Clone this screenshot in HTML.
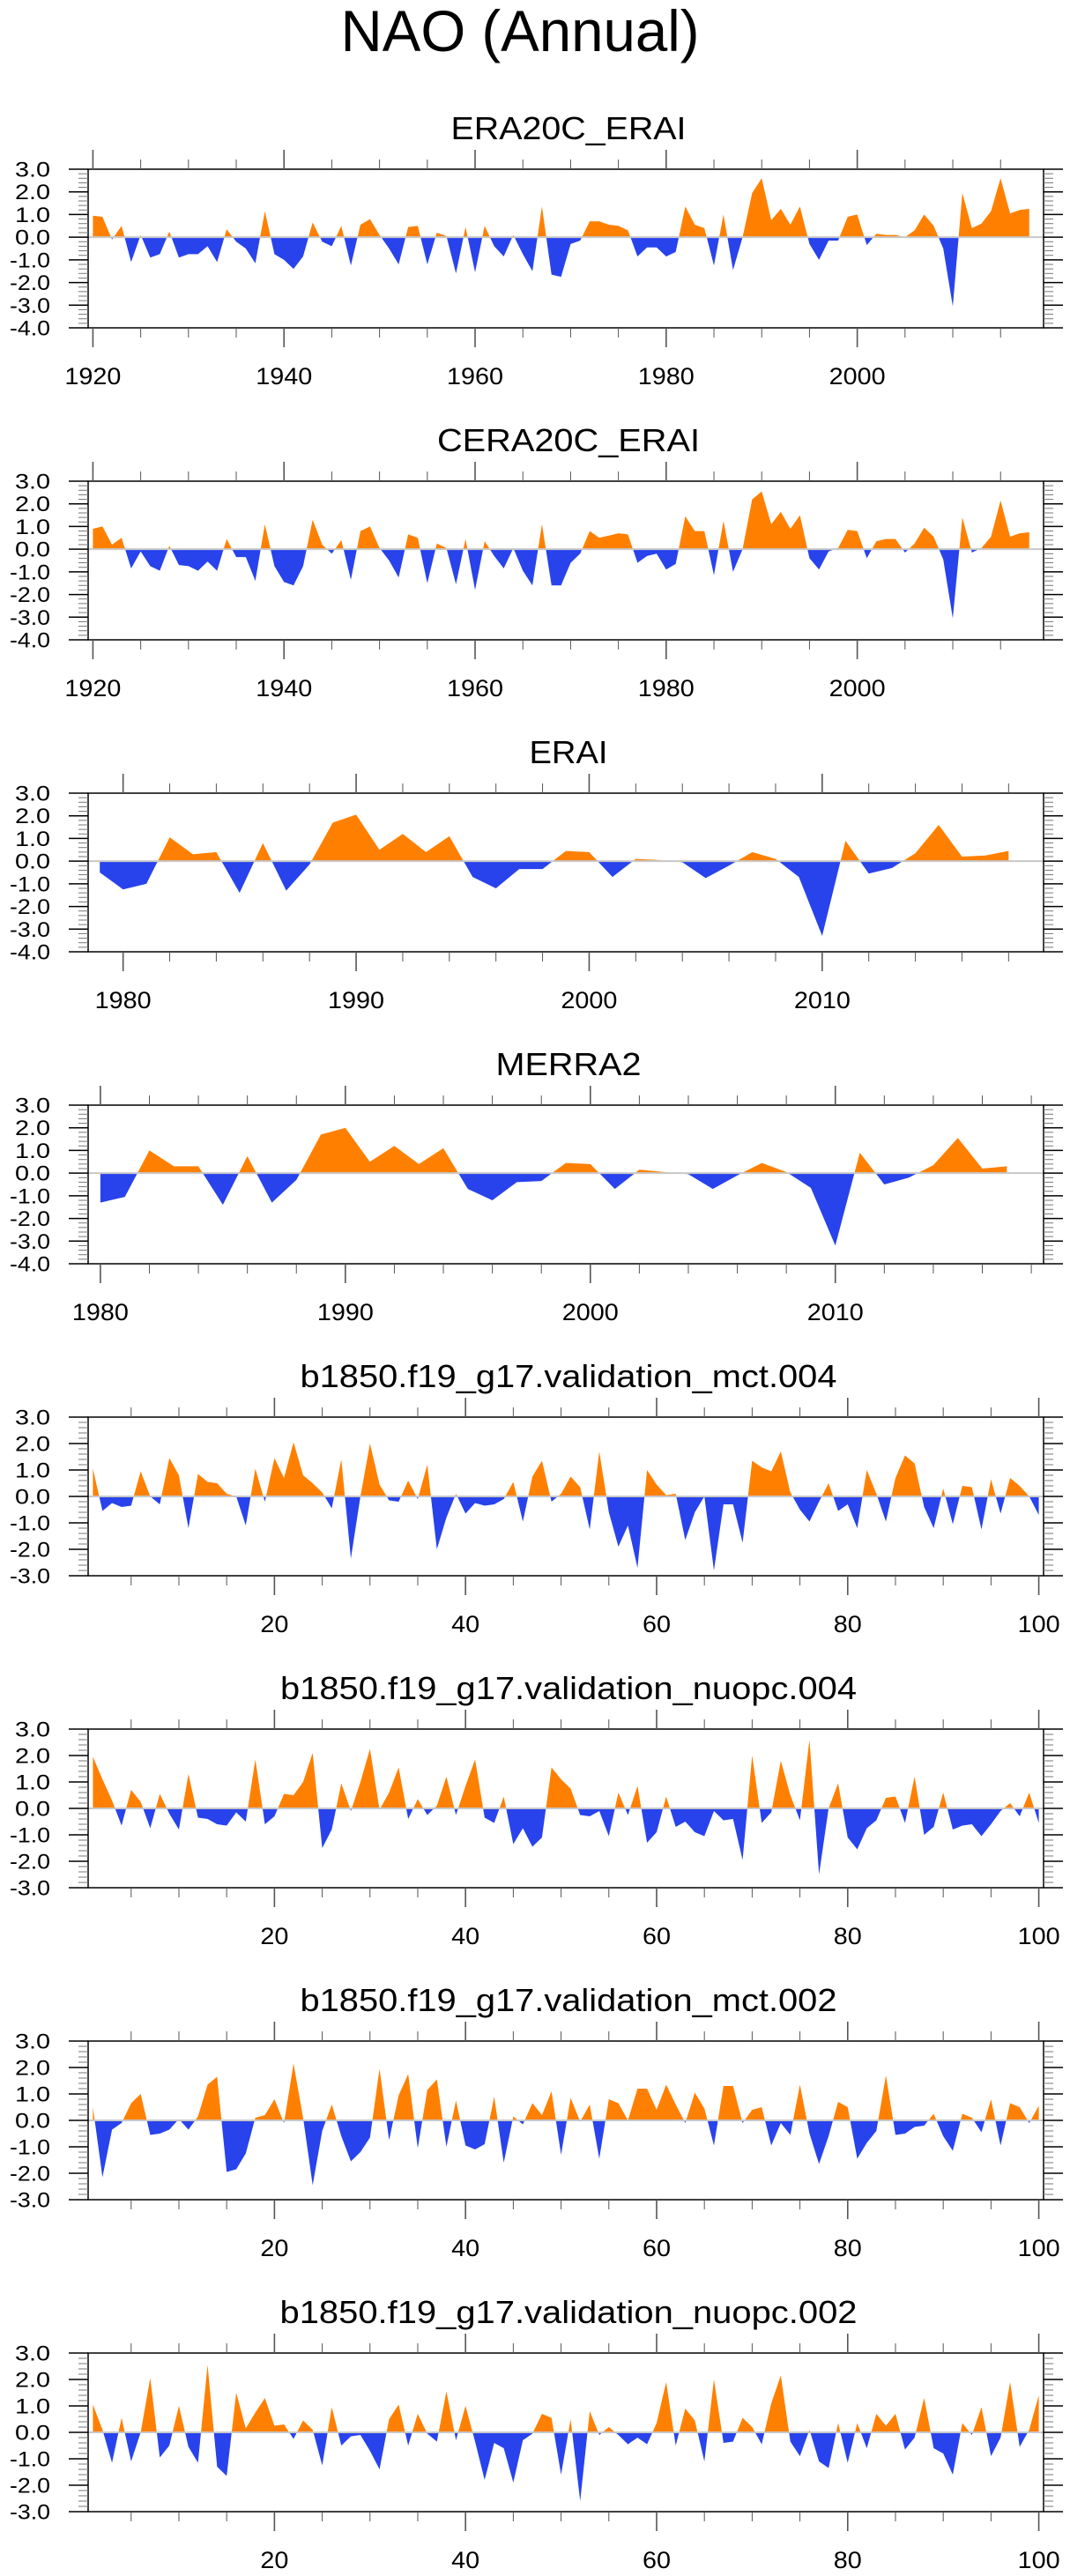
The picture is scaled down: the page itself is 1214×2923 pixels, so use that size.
<!DOCTYPE html>
<html><head><meta charset="utf-8"><title>NAO (Annual)</title>
<style>html,body{margin:0;padding:0;background:#fff;}svg{display:block;}</style></head>
<body>
<svg id="fig" xmlns="http://www.w3.org/2000/svg" width="1214" height="2923" viewBox="0 0 1214 2923" font-family="Liberation Sans, Arial, sans-serif">
<rect x="0" y="0" width="1214" height="2923" fill="#fff"/>
<text x="590" y="58" text-anchor="middle" font-size="66" textLength="407" lengthAdjust="spacingAndGlyphs">NAO (Annual)</text>
</svg>
<script>
// ---- data ----
const titles = ["ERA20C_ERAI","CERA20C_ERAI","ERAI","MERRA2","b1850.f19_g17.validation_mct.004","b1850.f19_g17.validation_nuopc.004","b1850.f19_g17.validation_mct.002","b1850.f19_g17.validation_nuopc.002"];
const startYears = [1920,1920,1979,1980,1,1,1,1];
const era20c = [0.95,0.9,-0.1,0.5,-1.1,0.1,-0.9,-0.75,0.25,-0.9,-0.75,-0.75,-0.4,-1.1,0.35,-0.2,-0.5,-1.15,1.15,-0.75,-1.0,-1.4,-0.85,0.65,-0.2,-0.4,0.5,-1.25,0.55,0.8,0.1,-0.5,-1.2,0.45,0.5,-1.2,0.2,0.05,-1.6,0.45,-1.55,0.5,-0.4,-0.85,0.1,-0.75,-1.5,1.35,-1.65,-1.75,-0.3,-0.15,0.7,0.7,0.55,0.5,0.3,-0.85,-0.45,-0.45,-0.85,-0.65,1.35,0.55,0.4,-1.25,1.0,-1.45,0.0,1.95,2.6,0.75,1.25,0.55,1.35,-0.3,-1.0,-0.15,-0.15,0.9,1.0,-0.35,0.15,0.1,0.1,0.0,0.3,1.0,0.5,-0.5,-3.05,1.95,0.4,0.6,1.15,2.6,1.05,1.2,1.25];
const cera20c = [0.9,1.0,0.2,0.5,-0.85,-0.1,-0.75,-0.95,0.15,-0.7,-0.75,-0.95,-0.55,-0.95,0.45,-0.35,-0.35,-1.4,1.1,-0.75,-1.45,-1.6,-0.75,1.3,0.2,-0.2,0.4,-1.35,0.8,1.0,0.05,-0.5,-1.25,0.65,0.5,-1.5,0.25,0.05,-1.55,0.45,-1.8,0.35,-0.3,-0.85,0.05,-0.95,-1.6,1.1,-1.6,-1.6,-0.6,-0.2,0.8,0.5,0.6,0.7,0.65,-0.6,-0.3,-0.2,-0.9,-0.65,1.45,0.8,0.8,-1.15,1.25,-1.0,0.0,2.2,2.55,1.1,1.65,0.9,1.5,-0.4,-0.9,-0.1,0.05,0.85,0.8,-0.4,0.35,0.45,0.45,-0.15,0.25,0.95,0.55,-0.45,-3.05,1.4,-0.15,0.05,0.55,2.15,0.55,0.7,0.75];
const erai = [-0.5,-1.25,-1.0,1.05,0.3,0.4,-1.4,0.8,-1.3,-0.15,1.7,2.05,0.5,1.2,0.4,1.1,-0.7,-1.2,-0.35,-0.35,0.45,0.4,-0.7,0.1,0.05,-0.05,-0.75,-0.2,0.4,0.1,-0.7,-3.3,0.9,-0.55,-0.3,0.35,1.6,0.2,0.25,0.45];
const merra2 = [-1.3,-1.05,1.0,0.3,0.3,-1.4,0.75,-1.3,-0.3,1.7,2.0,0.5,1.2,0.4,1.1,-0.7,-1.2,-0.4,-0.35,0.45,0.4,-0.7,0.15,0.05,-0.05,-0.7,-0.1,0.45,0.05,-0.65,-3.2,0.9,-0.5,-0.2,0.35,1.55,0.2,0.3];
const mct004 = [1.05,-0.55,-0.25,-0.4,-0.35,0.95,0.0,-0.3,1.45,0.8,-1.2,0.85,0.55,0.5,0.1,0.0,-1.1,1.05,-0.2,1.45,0.7,2.05,0.8,0.5,0.15,-0.45,1.4,-2.35,0.0,2.0,0.45,-0.15,-0.2,0.6,-0.1,1.2,-2.0,-0.8,0.1,-0.65,-0.25,-0.35,-0.3,-0.1,0.55,-0.95,0.75,1.35,-0.2,0.1,0.75,0.35,-1.25,1.7,-0.6,-1.9,-1.1,-2.7,1.0,0.45,0.05,0.1,-1.65,-0.6,0.0,-2.8,-0.3,-0.3,-1.75,1.35,1.1,0.95,1.7,0.15,-0.5,-0.95,-0.2,0.5,-0.55,-0.3,-1.2,1.0,0.1,-0.95,0.7,1.55,1.25,-0.4,-1.2,0.3,-1.05,0.4,0.35,-1.25,0.65,-0.65,0.7,0.4,0.0,-0.7];
const nuopc004 = [1.95,1.1,0.3,-0.65,0.7,0.25,-0.75,0.55,-0.2,-0.8,1.3,-0.35,-0.4,-0.6,-0.65,-0.15,-0.5,1.85,-0.6,-0.3,0.55,0.5,1.0,2.1,-1.5,-0.8,0.95,-0.1,1.0,2.25,-0.05,0.6,1.55,-0.4,0.35,-0.25,0.1,1.2,-0.25,0.85,1.85,-0.35,-0.55,0.45,-1.35,-0.75,-1.45,-1.1,1.55,1.1,0.75,-0.25,-0.3,-0.1,-1.05,0.6,-0.25,0.85,-1.3,-0.9,0.45,-0.7,-0.5,-0.9,-1.05,-0.1,-0.45,-0.4,-1.95,2.0,-0.55,-0.15,1.8,0.5,-0.45,2.6,-2.5,0.0,0.95,-1.1,-1.55,-0.75,-0.45,0.4,0.45,-0.55,1.2,-1.0,-0.7,0.6,-0.8,-0.65,-0.6,-1.05,-0.6,-0.1,0.2,-0.3,0.6,-0.55];
const mct002 = [0.5,-2.15,-0.35,-0.1,0.65,1.0,-0.55,-0.5,-0.35,0.05,-0.35,0.15,1.35,1.65,-1.95,-1.85,-1.25,0.1,0.2,0.8,-0.1,2.15,0.1,-2.45,-0.4,0.6,-0.6,-1.55,-1.2,-0.65,1.95,-0.75,0.95,1.75,-1.05,1.15,1.55,-1.0,0.75,-0.95,-1.1,-0.9,0.9,-1.6,0.15,-0.15,0.65,0.2,1.1,-1.3,0.85,-0.05,0.6,-1.45,0.8,0.65,0.0,1.2,1.2,0.4,1.35,0.6,-0.1,1.05,0.45,-0.95,1.3,1.3,-0.1,0.4,0.5,-0.95,-0.1,-0.55,1.35,-0.5,-1.65,-0.6,0.7,0.5,-1.45,-0.85,-0.4,1.7,-0.55,-0.5,-0.25,-0.2,0.25,-0.6,-1.15,0.25,0.1,-0.45,0.8,-0.95,0.65,0.5,-0.1,0.55];
const nuopc002 = [1.05,0.1,-1.15,0.55,-1.1,0.0,2.05,-0.95,-0.5,1.0,-0.55,-1.15,2.55,-1.3,-1.65,1.5,0.15,0.75,1.3,0.25,0.3,-0.25,0.45,0.1,-1.25,0.95,-0.5,-0.15,-0.1,-0.7,-1.4,0.5,1.05,-0.5,0.7,-0.05,-0.35,1.55,-0.3,1.0,-0.35,-1.8,-0.4,-0.6,-1.9,-0.3,-0.05,0.7,0.55,-1.6,0.5,-2.6,0.8,-0.1,0.2,-0.1,-0.45,-0.2,-0.45,0.35,1.9,-0.5,0.9,0.45,-1.1,2.0,-0.4,-0.35,0.55,0.2,-0.45,1.1,2.15,-0.35,-0.9,0.1,-1.1,-1.35,0.35,-1.15,0.35,-0.6,0.7,0.25,0.7,-0.65,-0.2,1.3,-0.6,-0.8,-1.6,0.35,-0.1,0.95,-0.9,-0.2,1.9,-0.55,0.1,1.4];
const seriesList = [era20c,cera20c,erai,merra2,mct004,nuopc004,mct002,nuopc002];
const xDomains = [[1919.5,2019.5],[1919.5,2019.5],[1978.5,2019.5],[1979.5,2018.5],[0.5,100.5],[0.5,100.5],[0.5,100.5],[0.5,100.5]];
const yDomains = [[-4,3],[-4,3],[-4,3],[-4,3],[-3,3],[-3,3],[-3,3],[-3,3]];
const xMajor = [[1920,1940,1960,1980,2000],[1920,1940,1960,1980,2000],[1980,1990,2000,2010],[1980,1990,2000,2010],[20,40,60,80,100],[20,40,60,80,100],[20,40,60,80,100],[20,40,60,80,100]];
const xMinorSpec = [[1920,2015,5],[1920,2015,5],[1980,2018,2],[1980,2018,2],[5,100,5],[5,100,5],[5,100,5],[5,100,5]];
const yTickLabels = [["3.0","2.0","1.0","0.0","-1.0","-2.0","-3.0","-4.0"],["3.0","2.0","1.0","0.0","-1.0","-2.0","-3.0"]];
const titleWidths = [267,298,89,165,609,654,609,655];

const NS = "http://www.w3.org/2000/svg";
const svg = document.getElementById('fig');
function mk(tag, attrs, parent){ const e=document.createElementNS(NS,tag); for(const k in attrs) e.setAttribute(k,attrs[k]); (parent||svg).appendChild(e); return e; }

const L=100, R=1184, H=180, TOP0=192, STEP=354;
const ORANGE="#ff8000", BLUE="#2843ec";

for(let p=0;p<8;p++){
  const top=TOP0+STEP*p, bot=top+H;
  const [x0,x1]=xDomains[p], [y0,y1]=yDomains[p];
  const xs=v=>L+(v-x0)/(x1-x0)*(R-L);
  const ys=v=>bot-(v-y0)/(y1-y0)*H;
  const g=mk('g',{});
  
  

  const t=mk('text',{x:645,y:top-34,'text-anchor':'middle','font-size':36,textLength:titleWidths[p],lengthAdjust:'spacingAndGlyphs'},g);
  t.textContent=titles[p];
  
  

  // fills
  const data=seriesList[p], sy=startYears[p];
  const z=ys(0);
  let d='M'+xs(sy).toFixed(2)+','+z.toFixed(2);
  data.forEach((v,i)=>{ d+=' L'+xs(sy+i).toFixed(2)+','+ys(v).toFixed(2); });
  d+=' L'+xs(sy+data.length-1).toFixed(2)+','+z.toFixed(2)+' Z';
  const cidA='clipA'+p, cidB='clipB'+p;
  const defs=mk('defs',{},g);
  const ca=mk('clipPath',{id:cidA},defs); mk('rect',{x:L,y:top,width:R-L,height:z-top},ca);
  const cb=mk('clipPath',{id:cidB},defs); mk('rect',{x:L,y:z,width:R-L,height:bot-z},cb);
  const pos=mk('path',{d:d,fill:ORANGE,'clip-path':'url(#'+cidA+')'},g);
  
  
  const neg=mk('path',{d:d,fill:BLUE,'clip-path':'url(#'+cidB+')'},g);
  
  
  const zl=mk('line',{x1:L,x2:R,y1:z,y2:z,stroke:'#c8c8c8','stroke-width':2},g);
  
  

  // box
  const box=mk('rect',{x:L,y:top,width:R-L,height:H,fill:'none',stroke:'#000','stroke-width':1.5},g);
  
  

  // y ticks
  for(let v=y0; v<=y1+1e-9; v+=0.2){
    const vv=Math.round(v*10)/10, y=ys(vv);
    const major=Math.abs(vv-Math.round(vv))<1e-6;
    if(major){
      mk('line',{x1:78,x2:L,y1:y,y2:y,stroke:'#000','stroke-width':1.5},g);
      mk('line',{x1:R,x2:1206,y1:y,y2:y,stroke:'#000','stroke-width':1.5},g);
    } else {
      mk('line',{x1:89,x2:L,y1:y,y2:y,stroke:'#777','stroke-width':1},g);
      mk('line',{x1:R,x2:1195,y1:y,y2:y,stroke:'#777','stroke-width':1},g);
    }
  }
  const labs = yTickLabels[p<4?0:1];
  labs.forEach(s=>{
    const v=parseFloat(s);
    const tl=mk('text',{x:57,y:ys(v)+8.5,'text-anchor':'end','font-size':24,textLength:(s.length===3?40:46),lengthAdjust:'spacingAndGlyphs'},g);
    tl.textContent=s;
    
    
  });

  // x ticks
  const [m0,m1,ms]=xMinorSpec[p];
  for(let v=m0; v<=m1; v+=ms){
    const x=xs(v), major=xMajor[p].indexOf(v)>=0;
    const len=major?22:11;
    mk('line',{x1:x,x2:x,y1:top-len,y2:top,stroke:'#555','stroke-width':major?1.6:1},g);
    mk('line',{x1:x,x2:x,y1:bot,y2:bot+len,stroke:'#555','stroke-width':major?1.6:1},g);
  }
  xMajor[p].forEach(v=>{
    const x=xs(v), s=String(v);
    const tx=mk('text',{x:x,y:bot+64,'text-anchor':'middle','font-size':27,textLength:s.length*16,lengthAdjust:'spacingAndGlyphs'},g);
    tx.textContent=s;
    
    
  });
}
</script>
</body></html>
